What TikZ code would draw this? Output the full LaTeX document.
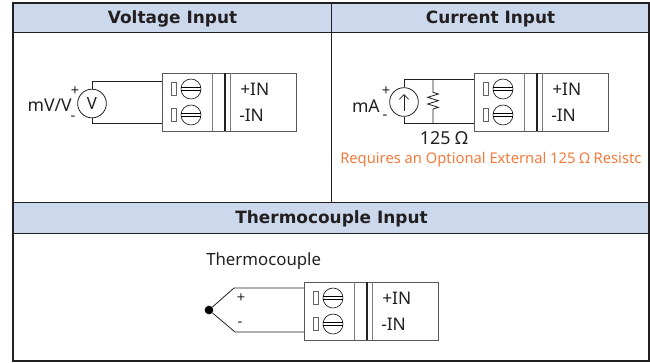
\documentclass[tikz,border=0pt]{standalone}
\usepackage{fontspec}
\setmainfont{Noto Sans}
\newfontfamily\headfont{DejaVu Sans}
\usetikzlibrary{arrows.meta,decorations.pathmorphing}
\definecolor{headblue}{HTML}{CCD9EC}
\definecolor{noteorange}{HTML}{F47B3C}
\definecolor{inkdark}{HTML}{231F20}
\tikzset{
  header/.style={draw=inkdark, line width=0.8pt, fill=headblue, anchor=north west, inner sep=0pt, text height=9.5pt, text depth=2pt, text=inkdark, font=\headfont\bfseries\fontsize{12.7}{14}\selectfont},
  label/.style={inner sep=0pt, text=inkdark, font=\fontsize{12.6}{14}\selectfont},
  small/.style={inner sep=0pt, text=inkdark, font=\fontsize{11}{12}\selectfont},
  wire/.style={draw=inkdark, line width=0.6pt},
  source/.style={draw=inkdark, line width=0.6pt, circle, inner sep=0pt, minimum size=21.5pt, text=inkdark, font=\fontsize{12.6}{14}\selectfont},
  screw/.style={draw=inkdark, line width=0.5pt, circle, inner sep=0pt, minimum size=15pt},
  slot/.style={draw=inkdark!70, line width=0.5pt, inner sep=0pt, minimum width=4pt, minimum height=10pt},
  tblock/.pic={
    \node[draw=inkdark!75, line width=0.7pt, anchor=north west, inner sep=0pt, minimum width=100.5pt, minimum height=43.5pt] (-box) at (0,0) {};
    \foreach \s/\y in {a/16,b/42} {
      \node[slot] (-slot\s) at (12,\y) {};
      \node[screw] (-screw\s) at (29,\y) {};
      \draw[line width=0.4pt] ([yshift=1.1pt]-screw\s.west) -- ([yshift=1.1pt]-screw\s.east);
      \draw[line width=0.4pt] ([yshift=-1.1pt]-screw\s.west) -- ([yshift=-1.1pt]-screw\s.east);
    }
    \draw[draw=inkdark!60, line width=0.7pt] (-box.north west) ++(50,0) -- ++(0,58);
    \draw[draw=inkdark, line width=1.5pt] (-box.north west) ++(63,0) -- ++(0,58);
    \draw[draw=inkdark!60, line width=0.7pt] (-box.north west) ++(68,0) -- ++(0,58);
    \node[label, anchor=west, font=\fontsize{13}{14}\selectfont] (-plus) at (78,16.5) {+IN};
    \node[label, anchor=west, font=\fontsize{13}{14}\selectfont] (-minus) at (77,42.5) {-IN};
  }
}
\begin{document}
\begin{tikzpicture}[x=0.75pt, y=-0.75pt]
\useasboundingbox (0,0) rectangle (650,362);

% table
\node[header, minimum width=238.5pt, minimum height=21.75pt] (hvolt) at (13,3) {Voltage Input};
\node[header, minimum width=238.5pt, minimum height=21.75pt] (hcurr) at (331,3) {Current Input};
\node[header, minimum width=477pt, minimum height=23.25pt] (htherm) at (13,202) {Thermocouple Input};
\draw[draw=inkdark, line width=1.1pt] (13,3) rectangle (649,361);
\draw[draw=inkdark, line width=0.7pt] (hcurr.north west) -- (htherm.north -| hcurr.west);

% voltage
\pic (vb) at (162,73) {tblock};
\node[source] (vsrc) at (92,103.5) {V};
\node[label, anchor=east, font=\fontsize{13.2}{14}\selectfont] (vlabel) at (72,105.5) {mV/V};
\node[small] (vplus) at (75,91) {+};
\node[small] (vminus) at (73,118) {-};
\coordinate (vpa) at (162,81);
\coordinate (vpb) at (162,123);
\draw[wire] (vsrc.north) |- (vpa);
\draw[wire] (vsrc.south) |- (vpb);

% current
\pic (cb) at (474,73) {tblock};
\node[source] (csrc) at (404,102) {};
\coordinate (carrowa) at (404,111);
\coordinate (carrowb) at (404,94);
\draw[wire, -{Straight Barb[length=3.5pt,width=7pt]}] (carrowa) -- (carrowb);
\node[label, anchor=east, font=\fontsize{13.2}{14}\selectfont] (clabel) at (380,106) {mA};
\node[small] (cplus) at (386,91) {+};
\node[small] (cminus) at (385,117) {-};
\coordinate (cpa) at (474,79);
\coordinate (cpb) at (474,123);
\coordinate (rtop) at (433,79);
\coordinate (rbot) at (433,123);
\draw[wire] (csrc.north) |- (cpa);
\draw[wire] (csrc.south) |- (cpb);
\draw[wire, decorate, decoration={zigzag, amplitude=4pt, segment length=5pt, pre length=10pt, post length=9pt}] (rtop) -- (rbot);
\node[label, font=\fontsize{13.4}{14}\selectfont] (rlabel) at (444,138) {125 Ω};
\node[label, text=noteorange, anchor=west, font=\fontsize{11.05}{13}\selectfont] (cnote) at (340,159.5) {Requires an Optional External 125 Ω Resistc};

% thermocouple
\pic (tb) at (304,282) {tblock};
\node[label, anchor=west] (tlabel) at (206,261.5) {Thermocouple};
\node[circle, fill=black, inner sep=0pt, minimum size=6.5pt] (tdot) at (209,310) {};
\coordinate (tka) at (234,288);
\coordinate (tkb) at (235,332);
\coordinate (tpa) at (304,288);
\coordinate (tpb) at (304,332);
\draw[wire] (tdot) -- (tka) -- (tpa);
\draw[wire] (tdot) -- (tkb) -- (tpb);
\node[small] (tplus) at (241,298) {+};
\node[small] (tminus) at (240,324) {-};
\end{tikzpicture}
\end{document}
